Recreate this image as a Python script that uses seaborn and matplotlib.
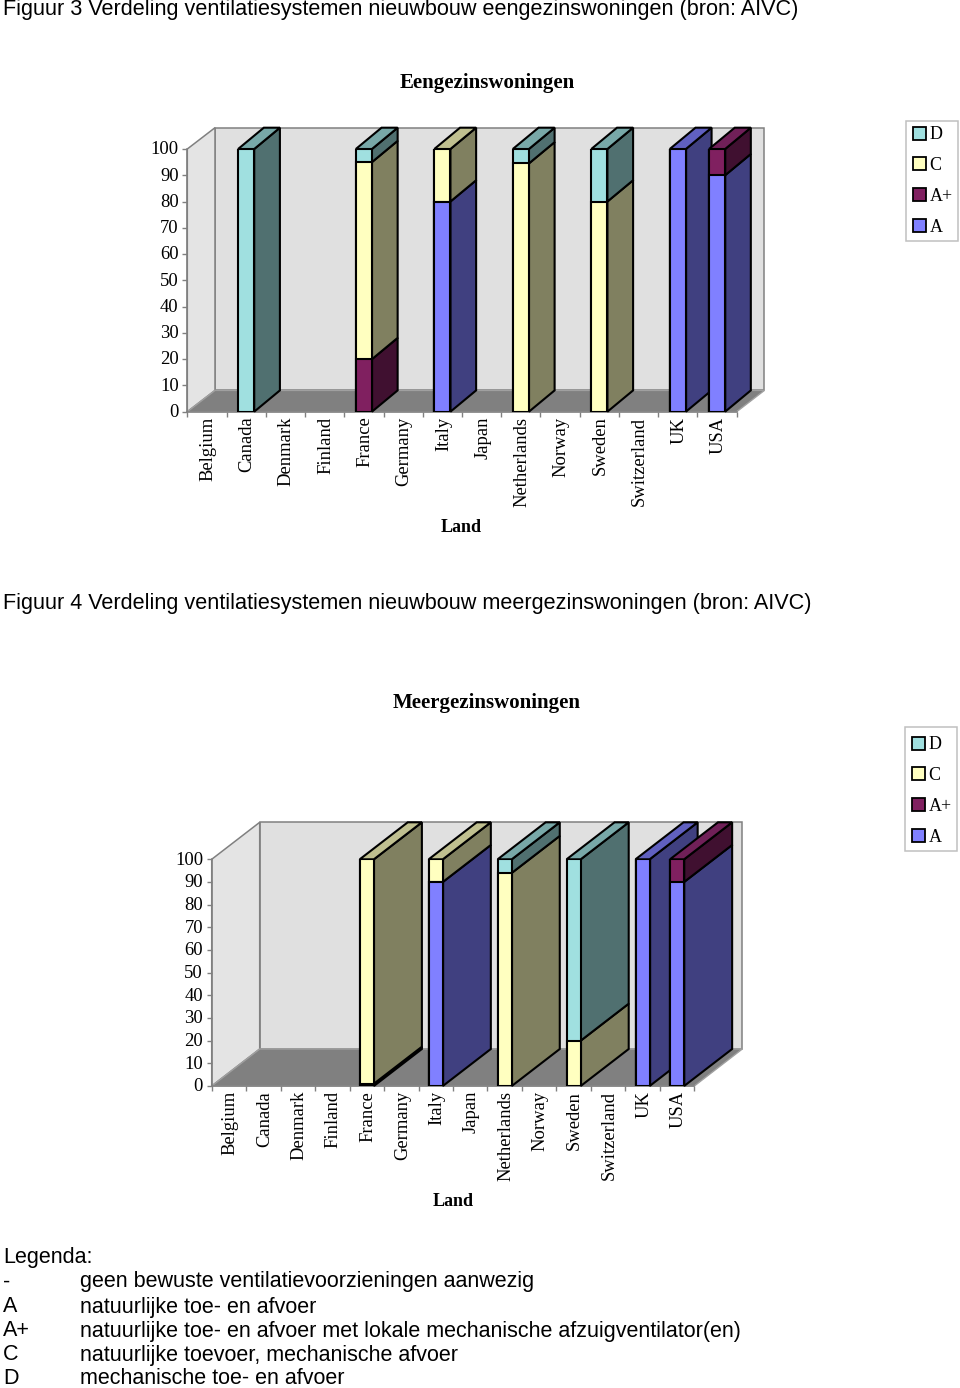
import pandas as pd
import matplotlib.pyplot as plt
import seaborn as sns
from matplotlib.patches import Patch, Polygon, Rectangle
from matplotlib.transforms import ScaledTranslation

countries = ["Belgium", "Canada", "Denmark", "Finland", "France", "Germany", "Italy",
             "Japan", "Netherlands", "Norway", "Sweden", "Switzerland", "UK", "USA"]
series = ["A", "A+", "C", "D"]

# waarden per land, volgorde gelijk aan countries
een_a = [0, 0, 0, 0, 0, 0, 80, 0, 0, 0, 0, 0, 100, 90]
een_ap = [0, 0, 0, 0, 20, 0, 0, 0, 0, 0, 0, 0, 0, 10]
een_c = [0, 0, 0, 0, 75, 0, 20, 0, 94.5, 0, 80, 0, 0, 0]
een_d = [0, 100, 0, 0, 5, 0, 0, 0, 5.5, 0, 20, 0, 0, 0]

meer_a = [0, 0, 0, 0, 0, 0, 90, 0, 0, 0, 0, 0, 100, 90]
meer_ap = [0, 0, 0, 0, 1, 0, 0, 0, 0, 0, 0, 0, 0, 10]
meer_c = [0, 0, 0, 0, 99, 0, 10, 0, 94, 0, 20, 0, 0, 0]
meer_d = [0, 0, 0, 0, 0, 0, 0, 0, 6, 0, 80, 0, 0, 0]

front = {"A": "#8080FF", "A+": "#802060", "C": "#FFFFC0", "D": "#A0E0E0"}
side = {"A": "#404080", "A+": "#401030", "C": "#808060", "D": "#507070"}
top = {"A": "#6060C0", "A+": "#702058", "C": "#C0C090", "D": "#78A8A8"}

legenda = [("-", "geen bewuste ventilatievoorzieningen aanwezig"),
           ("A", "natuurlijke toe- en afvoer"),
           ("A+", "natuurlijke toe- en afvoer met lokale mechanische afzuigventilator(en)"),
           ("C", "natuurlijke toevoer, mechanische afvoer"),
           ("D", "mechanische toe- en afvoer")]

W, H = 960, 1388
SANS = "Liberation Sans"
EDGE = 1.5

sns.set_theme(style="ticks")
plt.rcParams['font.family'] = ['Liberation Serif', 'DejaVu Sans']

fig = plt.figure(figsize=(W / 100, H / 100), dpi=100)
fig.patch.set_facecolor("white")


def draw_chart(values, box, wall, bar_depth, title_pos, land_pos, legend_box):
    left, right, y0, y100 = box
    ax = fig.add_axes([left / W, 1 - y0 / H, (right - left) / W, (y0 - y100) / H])
    ax.patch.set_alpha(0)

    unit_x = (right - left) / len(countries)
    unit_y = (y0 - y100) / 100
    wall_dx, wall_dy = wall[0] / unit_x, wall[1] / unit_y
    bar_dx, bar_dy = bar_depth[0] / unit_x, bar_depth[1] / unit_y
    width = 0.41

    df = pd.DataFrame(values, index=countries)
    cum = df[series].cumsum(axis=1)

    # achterwand, zijwand en vloer
    x_l, x_r = -0.5, len(countries) - 0.5
    grey = "#808080"
    ax.add_patch(Polygon([(x_l + wall_dx, wall_dy), (x_r + wall_dx, wall_dy),
                          (x_r + wall_dx, 100 + wall_dy), (x_l + wall_dx, 100 + wall_dy)],
                         fc="#E0E0E0", ec=grey, lw=1.1, clip_on=False, zorder=0))
    ax.add_patch(Polygon([(x_l, 0), (x_l + wall_dx, wall_dy), (x_l + wall_dx, 100 + wall_dy), (x_l, 100)],
                         fc="#E4E4E4", ec=grey, lw=1.1, clip_on=False, zorder=0))
    ax.add_patch(Polygon([(x_l, 0), (x_r, 0), (x_r + wall_dx, wall_dy), (x_l + wall_dx, wall_dy)],
                         fc=grey, ec="#A0A0A0", lw=1.0, clip_on=False, zorder=0.5))

    # gestapelde voorkant: cumulatief, grootste eerst
    for s in reversed(series):
        sub = pd.DataFrame({"Land": countries, "waarde": cum[s].values})
        sub = sub[sub["waarde"] > 0]
        sns.barplot(data=sub, x="Land", y="waarde", order=countries, color=front[s], saturation=1,
                    width=width, edgecolor="black", linewidth=EDGE, errorbar=None, ax=ax, zorder=4)

    # 3D zijkant en bovenkant
    for i, c in enumerate(countries):
        bottom = 0
        x0, x1 = i - width / 2, i + width / 2
        last = None
        for s in series:
            v = df.loc[c, s]
            if v <= 0:
                continue
            t = bottom + v
            ax.add_patch(Polygon([(x1, bottom), (x1, t), (x1 + bar_dx, t + bar_dy), (x1 + bar_dx, bottom + bar_dy)],
                                 fc=side[s], ec="black", lw=EDGE, clip_on=False, zorder=2))
            bottom = t
            last = s
        if last is not None:
            ax.add_patch(Polygon([(x0, bottom), (x1, bottom), (x1 + bar_dx, bottom + bar_dy), (x0 + bar_dx, bottom + bar_dy)],
                                 fc=top[last], ec="black", lw=EDGE, clip_on=False, zorder=3))

    ax.set_xlim(x_l, x_r)
    ax.set_ylim(0, 100)
    ax.set_xlabel("")
    ax.set_ylabel("")
    ax.set_yticks(range(0, 101, 10))
    ax.set_yticklabels([str(v) for v in range(0, 101, 10)])
    ax.set_xticks(range(len(countries)))
    ax.set_xticklabels(countries, rotation=90, va="top", ha="center")
    ax.set_xticks([v - 0.5 for v in range(len(countries) + 1)], minor=True)
    ax.tick_params(axis="x", which="major", length=0, pad=3.5, labelsize=13.4, colors="black")
    ax.tick_params(axis="x", which="minor", length=3.5, width=1, color=grey)
    ax.tick_params(axis="y", length=3.5, width=1, color=grey, pad=2.7, labelsize=13.4, labelcolor="black")
    # labels staan in het origineel iets rechts van het midden
    for lab in ax.get_xticklabels():
        lab.set_transform(lab.get_transform() + ScaledTranslation(1.0 / 100, 0, fig.dpi_scale_trans))
    for lab in ax.get_yticklabels():
        lab.set_transform(lab.get_transform() + ScaledTranslation(0, 1.2 / 100, fig.dpi_scale_trans))
    for name in ["top", "right"]:
        ax.spines[name].set_visible(False)
    for name in ["left", "bottom"]:
        ax.spines[name].set_color(grey)
        ax.spines[name].set_linewidth(1.1)
    ax.spines["bottom"].set_zorder(1)
    ax.spines["left"].set_zorder(1)

    fig.text(title_pos[1] / W, 1 - title_pos[2] / H, title_pos[0], fontsize=15, fontweight="bold",
             ha="center", va="center", color="black")
    fig.text(land_pos[0] / W, 1 - land_pos[1] / H, "Land", fontsize=13, fontweight="bold",
             ha="center", va="center", color="black")

    # legenda: kader apart, de hoogte verschilt per grafiek
    bx, by, bw, bh, first = legend_box
    fig.add_artist(Rectangle((bx / W, 1 - (by + bh) / H), bw / W, bh / H, transform=fig.transFigure,
                             fc="white", ec="#C0C0C0", lw=1.1))
    handles = [Patch(fc=front[s], ec="black", lw=1.3, label=s) for s in reversed(series)]
    fig.legend(handles=handles, loc="upper left", bbox_to_anchor=((bx + 1.5) / W, 1 - first / H),
               borderaxespad=0, frameon=False, fontsize=13,
               labelspacing=0.76, handlelength=0.72, handleheight=0.72, handletextpad=0.2,
               borderpad=0.3, labelcolor="black")


draw_chart({"A": een_a, "A+": een_ap, "C": een_c, "D": een_d},
           (187.3, 736.7, 411.7, 149), (27.7, 21.3), (25.7, 21.3),
           ("Eengezinswoningen", 487, 83), (461, 527), (906, 121, 52, 120, 121))
draw_chart({"A": meer_a, "A+": meer_ap, "C": meer_c, "D": meer_d},
           (211.7, 694.3, 1086, 859.3), (48, 37), (48, 37),
           ("Meergezinswoningen", 487, 703), (453, 1202), (905, 727, 52, 124, 731))

fig.text(3 / W, 1 - 10 / H, "Figuur 3 Verdeling ventilatiesystemen nieuwbouw eengezinswoningen (bron: AIVC)",
         family=SANS, fontsize=15.55, va="center", ha="left", color="black")
fig.text(3 / W, 1 - 604 / H, "Figuur 4 Verdeling ventilatiesystemen nieuwbouw meergezinswoningen (bron: AIVC)",
         family=SANS, fontsize=15.55, va="center", ha="left", color="black")

fig.text(3 / W, 1 - 1257 / H, "Legenda:", family=SANS, fontsize=15.5, va="center", ha="left", color="black")
for (code, uitleg), y in zip(legenda, [1282, 1307, 1331, 1355, 1378]):
    fig.text(3 / W, 1 - y / H, code, family=SANS, fontsize=15.5, va="center", ha="left", color="black")
    fig.text(80 / W, 1 - y / H, uitleg, family=SANS, fontsize=15.5, va="center", ha="left", color="black")

fig.savefig("out.png", dpi=100)
plt.close(fig)
